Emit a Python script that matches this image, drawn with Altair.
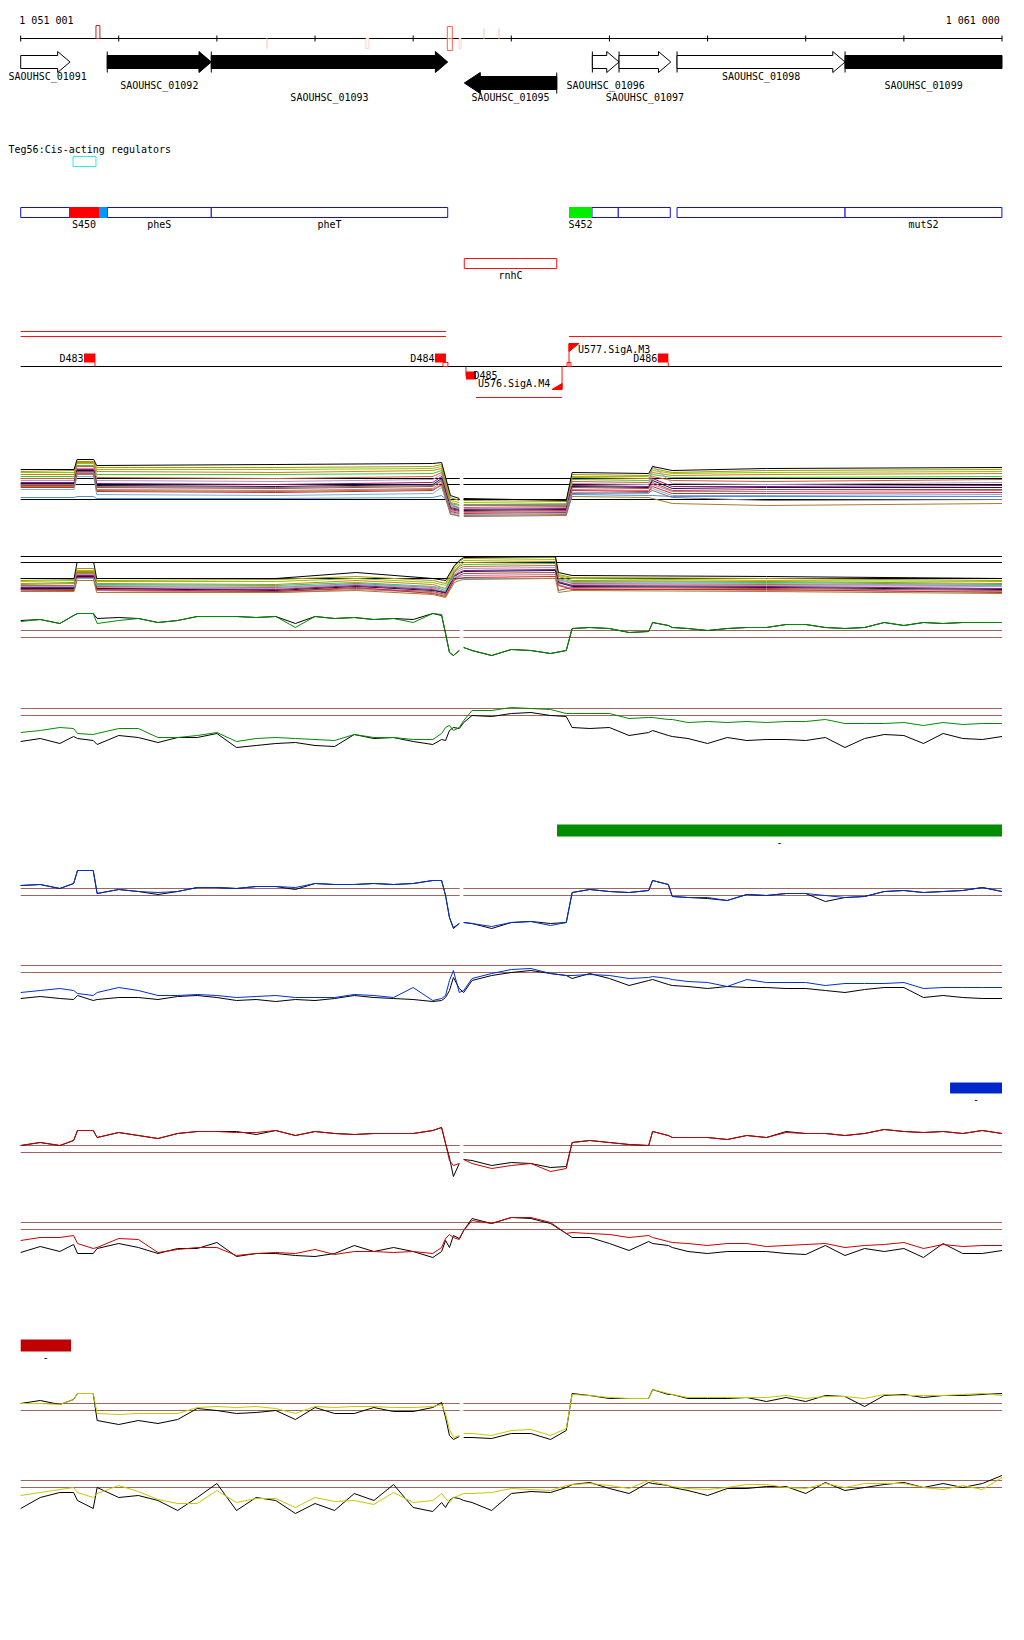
import altair as alt
import pandas as pd

# ------------------------------------------------------------------ window
START, END = 1051001, 1061000
X_DOMAIN = [1050871.6, 1061061.1]
W, H = 1000, 1620
MONO = "DejaVu Sans Mono"

RULER_TICKS = [1051001, 1052000, 1053000, 1054000, 1055000, 1056000,
               1057000, 1058000, 1059000, 1060000, 1061000]
RULER_TEXT = ["1 051 001", "1 061 000"]

# small feature glyphs on the ruler
RMARK_FROM = [1051768, 1055348, 1055348, 1053509, 1054519, 1055468, 1055722, 1055875]
RMARK_TO = [1051808, 1055399, 1055399, 1053509, 1054549, 1055488, 1055722, 1055875]
RMARK_UP = [True, True, False, False, False, False, True, True]
RMARK_COLOR = ["#c81e1e", "#ff6347", "#ff6347", "#ffd5c4", "#ffd5c4",
               "#ffd5c4", "#ffd5c4", "#ffd5c4"]

# ------------------------------------------------------------------ genes
GENE_NAME = ["SAOUHSC_01091", "SAOUHSC_01092", "SAOUHSC_01093", "SAOUHSC_01095",
             "SAOUHSC_01096", "SAOUHSC_01097", "SAOUHSC_01098", "SAOUHSC_01099"]
GENE_FROM = [1051001, 1051883, 1052943, 1055521, 1056826, 1057098, 1057689, 1059401]
GENE_TO = [1051503, 1052943, 1055352, 1056463, 1057098, 1057625, 1059401, 1061000]
GENE_STRAND = [1, 1, 1, -1, 1, 1, 1, 1]
GENE_SOLID = [False, True, True, True, False, False, False, True]
GENE_RUNS_OUT = [False, False, False, False, False, False, False, True]
GENE_LANE = [0, 0, 0, 1, 0, 0, 0, 0]
GENE_LABEL_ROW = [0, 1, 2, 2, 1, 2, 0, 1]

# ------------------------------------------------------------------ regulators
REG_TITLE = "Teg56:Cis-acting regulators"
REG_BOX = [1051534, 1051768]

CDS_FROM = [1051001, 1051883, 1052943, 1056822, 1057090, 1057689, 1059401]
CDS_TO = [1051883, 1052943, 1055352, 1057090, 1057620, 1059401, 1060999]
CDS_LABEL = ["", "pheS", "pheT", "", "", "", "mutS2"]

SRNA_FROM = [1051493, 1051799, 1056588]
SRNA_TO = [1051799, 1051880, 1056822]
SRNA_COLOR = ["#ff0000", "#0096ff", "#00ee00"]
SRNA_LABEL = ["S450", "", "S452"]

RNHC = [1055521, 1056463]

# terminator / promoter track
TERM_FROM = [1051001, 1051001, 1056588]
TERM_TO = [1055334, 1055334, 1060999]
D_NAME = ["D483", "D484", "D485", "D486"]
D_FROM = [1051646, 1055222, 1055538, 1057492]
D_TO = [1051758, 1055334, 1055640, 1057600]
D_UP = [True, True, False, True]
PROM_NAME = ["U576.SigA.M4", "U577.SigA.M3"]
PROM_AT = [1056517, 1056588]

# coloured blocks of the lower panels
BAR_FROM = [1056466, 1060471, 1051001]
BAR_TO = [1061000, 1061000, 1051514]
BAR_COLOR = ["#008c00", "#0028c8", "#c00000"]

# ------------------------------------------------------------------ signal grid
GRID = [1051001, 1051200, 1051400, 1051540, 1051580, 1051740, 1051780, 1052000,
        1052200, 1052400, 1052600, 1052800, 1053000, 1053200, 1053400, 1053600,
        1053800, 1054000, 1054200, 1054400, 1054600, 1054800, 1055000, 1055200,
        1055290, 1055330, 1055370, 1055410, 1055470, 1055515, 1055600, 1055800,
        1056000, 1056200, 1056400, 1056560, 1056620, 1056800, 1057000, 1057200,
        1057400, 1057440, 1057600, 1057640, 1057800, 1058000, 1058200, 1058400,
        1058600, 1058800, 1059000, 1059200, 1059400, 1059600, 1059800, 1060000,
        1060200, 1060400, 1060600, 1060800, 1061000]
GAP = [1055475, 1055512]

T3_BLACK = [17, 18, 14, 22, 24, 24, 19, 20, 19, 15, 17, 21, 21, 21, 20, 21, 14, 21, 19, 20,
            18, 19, 18, 24, 22, 4, -15, -18, -13, -10, -13, -18, -12, -13, -16, -13, 9, 10, 9, 5,
            6, 15, 12, 10, 9, 7, 9, 10, 10, 13, 13, 10, 9, 10, 15, 12, 15, 14, 15, 15, 15]
T3_GREEN = [16, 18, 14, 22, 24, 24, 14, 17, 19, 15, 17, 21, 21, 21, 20, 21, 10, 21, 19, 20,
            18, 19, 15, 24, 23, 4, -15, -18, -13, -10, -13, -18, -12, -13, -16, -13, 9, 10, 9, 5,
            6, 15, 12, 10, 9, 7, 9, 10, 10, 13, 13, 10, 9, 10, 15, 12, 15, 14, 15, 15, 15]
T4_GREEN = [-17, -15, -12, -13, -18, -19, -18, -13, -13, -22, -22, -20, -17, -26, -23, -22, -23, -24, -25, -19,
            -22, -22, -24, -24, -18, -12, -10, -15, -12, -5, 5, 5, 8, 7, 6, 2, 2, 2, 2, -3,
            -2, -2, -4, -4, -7, -6, -7, -6, -7, -6, -6, -4, -8, -8, -8, -7, -10, -7, -9, -8, -8]
T4_BLACK = [-26, -23, -28, -21, -23, -25, -29, -20, -22, -27, -22, -22, -18, -32, -30, -28, -27, -30, -31, -19,
            -23, -22, -26, -29, -24, -25, -15, -12, -13, -7, 0, -1, 2, 3, 0, -1, -12, -13, -12, -20,
            -17, -15, -20, -21, -23, -28, -22, -25, -24, -24, -25, -22, -32, -23, -19, -20, -28, -18, -23, -24, -21]
T5_BLUE = [10, 11, 7, 12, 25, 25, 2, 6, 4, 3, 4, 8, 8, 7, 9, 9, 8, 12, 11, 11,
           12, 11, 12, 15, 15, 0, -22, -32, -28, -27, -28, -31, -27, -26, -30, -27, 3, 6, 4, 3,
           5, 15, 11, -1, -2, -2, -5, 1, 0, 2, 2, 0, -2, -1, 4, 5, 3, 4, 5, 8, 4]
T5_BLACK = [10, 11, 7, 12, 25, 25, 2, 6, 4, 1, 4, 8, 8, 7, 9, 9, 6, 12, 11, 11,
            12, 11, 12, 15, 15, 0, -22, -33, -28, -27, -28, -33, -27, -26, -28, -27, 3, 6, 4, 3,
            5, 15, 11, -1, -2, -3, -5, 1, 0, 2, 2, -6, -2, -1, 4, 5, 3, 4, 5, 8, 4]
T6_BLUE = [-20, -18, -16, -18, -21, -23, -20, -15, -18, -23, -23, -22, -23, -25, -24, -23, -25, -25, -25, -22,
           -23, -25, -15, -28, -26, -23, -8, 2, -20, -18, -6, -1, 3, 4, -1, -3, -3, -2, -3, -6,
           -5, -4, -6, -7, -9, -10, -14, -7, -10, -10, -10, -13, -11, -11, -11, -10, -16, -15, -15, -15, -15]
T6_BLACK = [-26, -24, -26, -27, -23, -28, -27, -25, -25, -27, -24, -23, -25, -28, -27, -29, -27, -28, -26, -23,
            -25, -26, -27, -29, -28, -25, -18, -5, -16, -20, -8, -3, 0, 2, -1, -3, -6, -1, -6, -13,
            -8, -7, -12, -13, -14, -16, -14, -15, -15, -16, -16, -18, -20, -17, -15, -15, -25, -23, -25, -26, -26]
T7_RED = [7, 10, 7, 12, 22, 22, 15, 20, 17, 14, 19, 21, 21, 20, 20, 22, 17, 21, 19, 18,
          19, 19, 19, 22, 25, 9, -8, -13, -11, -7, -11, -16, -13, -11, -19, -16, 10, 12, 10, 8,
          7, 21, 17, 15, 15, 15, 13, 17, 15, 20, 19, 19, 17, 19, 23, 21, 20, 21, 19, 22, 19]
T7_BLACK = [7, 10, 7, 12, 22, 22, 15, 20, 17, 14, 19, 21, 21, 21, 18, 22, 17, 21, 19, 18,
            19, 19, 19, 22, 25, 9, -5, -24, -11, -7, -8, -13, -10, -11, -15, -14, 10, 12, 10, 8,
            7, 21, 17, 15, 15, 15, 13, 17, 15, 21, 19, 19, 17, 19, 23, 21, 20, 21, 19, 22, 19]
T8_RED = [-11, -8, -8, -6, -14, -19, -18, -9, -10, -23, -20, -18, -18, -26, -24, -23, -24, -20, -25, -22,
          -22, -23, -22, -24, -18, -9, -5, -8, -10, -1, 9, 6, 12, 12, 7, -4, -3, -4, -5, -8,
          -6, -8, -12, -13, -14, -16, -14, -14, -17, -16, -15, -14, -18, -16, -15, -13, -19, -15, -17, -16, -16]
T8_BLACK = [-23, -17, -22, -15, -24, -24, -19, -14, -18, -24, -19, -19, -13, -27, -24, -24, -26, -27, -24, -16,
            -22, -18, -22, -28, -22, -11, -18, -6, -9, -1, 11, 6, 12, 11, 6, -4, -8, -8, -14, -21,
            -12, -14, -16, -18, -22, -24, -22, -22, -22, -24, -25, -16, -26, -19, -22, -19, -28, -14, -24, -24, -21]
T9_YELLOW = [7, 7, 6, 11, 17, 17, -3, -4, -3, -3, -3, 3, 4, 3, 4, 2, -3, 4, 3, 4,
             4, 3, 3, 4, 6, -3, -19, -27, -25, -23, -23, -25, -20, -19, -25, -18, 16, 15, 13, 12,
             12, 21, 17, 16, 13, 13, 13, 13, 13, 15, 12, 14, 14, 12, 16, 15, 15, 15, 16, 17, 15]
T9_BLACK = [7, 10, 6, 11, 17, 17, -10, -14, -10, -13, -9, 2, 0, -3, -2, 0, -9, 3, -3, -3,
            3, -1, -1, 3, 8, -7, -25, -29, -26, -27, -27, -28, -23, -23, -29, -20, 17, 15, 12, 12,
            12, 21, 16, 16, 12, 12, 12, 13, 9, 13, 9, 15, 14, 4, 15, 16, 13, 15, 15, 16, 17]
T10_YELLOW = [-8, -5, -2, 0, -5, -10, -6, 2, -4, -12, -16, -16, -3, -15, -11, -11, -20, -10, -14, -13,
              -17, -5, -15, -13, -6, -11, -15, -10, -8, -6, -6, -5, -1, -2, -3, 2, 3, 4, 2, -1,
              7, 6, 2, 1, -1, -2, 0, 3, 3, 0, -1, 4, 0, 4, 4, 4, 0, -2, 2, -2, 10]
T10_BLACK = [-21, -10, -5, -5, -13, -21, 0, -10, -8, -13, -23, -10, 4, -23, -10, -13, -26, -16, -23, -6,
             -13, 3, -20, -24, -15, -20, -13, -10, -11, -13, -15, -23, -6, -4, -5, 0, 3, 5, -1, -6,
             5, 4, 2, 0, -3, -8, -1, -1, 1, 1, -6, 5, -3, 0, 3, 5, 0, 4, 0, 4, 12]

# multi-sample panels (spaghetti), read at break points
SP1_POS = [1051001, 1051545, 1051575, 1051745, 1051775, 1053600, 1055200, 1055290, 1055380,
           1055470, 1055515, 1056560, 1056620, 1057400, 1057440, 1057640, 1058600, 1061000]
SP1_COLOR = ["#a89a00", "#88cc00", "#d87a1a", "#33cc33", "#e0563a", "#a898c8", "#a0106a",
             "#101060", "#a05030", "#d4709a", "#d02828", "#70b0e8", "#4a90e0", "#a08030", "#907070"]
SP1_VALUES = [
    [28, 29, 38, 38, 32, 32, 33, 35, 2, -1, -1, -2, 25, 24, 31, 27, 29, 30],
    [27, 27, 36, 36, 30, 30, 31, 33, -1, -3, -3, -4, 23, 23, 29, 26, 27, 28],
    [25, 25, 37, 37, 28, 27, 29, 31, -3, -5, -5, -5, 22, 21, 27, 24, 25, 26],
    [23, 23, 34, 34, 25, 25, 26, 29, -4, -6, -6, -6, 20, 19, 25, 22, 22, 23],
    [21, 21, 33, 33, 22, 21, 23, 27, -6, -8, -8, -7, 18, 17, 23, 19, 18, 20],
    [19, 19, 31, 31, 19, 18, 20, 25, -7, -9, -9, -8, 16, 15, 34, 16, 15, 17],
    [17, 17, 30, 30, 16, 15, 17, 23, -8, -10, -10, -9, 14, 13, 21, 13, 13, 14],
    [16, 16, 29, 29, 14, 13, 15, 21, -9, -11, -11, -10, 13, 12, 19, 11, 12, 12],
    [14, 14, 28, 28, 12, 11, 13, 19, -10, -12, -12, -11, 12, 11, 17, 9, 10, 10],
    [13, 13, 27, 27, 10, 9, 11, 17, -11, -13, -13, -12, 10, 9, 15, 8, 8, 9],
    [12, 12, 25, 25, 8, 7, 9, 15, -12, -14, -14, -13, 9, 8, 13, 6, 6, 7],
    [10, 10, 23, 23, 5, 4, 6, 12, -13, -15, -15, -14, 7, 6, 11, 4, 4, 5],
    [2, 2, 3, 3, 1, 1, 2, 4, -4, -9, -6, -6, 5, 4, 4, 3, 3, 3],
    [13, 13, 25, 25, 9, 8, 10, 14, -15, -16, -16, -15, 3, 2, 1, -4, -6, -4],
    [15, 15, 26, 26, 13, 12, 14, 19, -14, -17, -17, -16, 6, 7, 9, 2, -1, 0],
]
SP1_BLACK = [30, 30, 40, 40, 34, 35, 36, 37, 4, 1, 1, -1, 27, 26, 33, 29, 31, 32]

SP2_POS = [1051001, 1051545, 1051575, 1051745, 1051775, 1053600, 1054420, 1055200, 1055330,
           1055420, 1055470, 1055515, 1056450, 1056480, 1056620, 1058600, 1061000]
SP2_COLOR = ["#a89a00", "#88cc00", "#d87a1a", "#33cc33", "#e0563a", "#a898c8", "#a0106a",
             "#101060", "#a05030", "#d4709a", "#d02828", "#70b0e8", "#a08030"]
SP2_VALUES = [
    [-2, -1, 10, 10, -2, -1, 2, -2, -5, 12, 17, 20, 21, 4, 1, 0, -2],
    [-3, -2, 8, 8, -3, -3, 0, -4, -7, 10, 15, 18, 19, 3, 0, -2, -3],
    [-5, -4, 7, 7, -5, -6, -2, -6, -10, 8, 13, 16, 17, 2, -2, -3, -5],
    [-6, -5, 5, 5, -6, -7, -4, -8, -12, 7, 12, 14, 15, 0, -3, -4, -6],
    [-7, -7, 6, 6, -8, -9, -5, -9, -14, 6, 10, 12, 13, -1, -5, -6, -7],
    [-8, -8, 4, 4, -9, -10, -6, -10, -13, 4, 8, 10, 11, -5, -6, -7, -8],
    [-9, -9, 3, 3, -10, -11, -7, -11, -15, 3, 6, 8, 9, -3, -7, -8, -10],
    [-10, -10, 2, 2, -10, -12, -8, -12, -14, 2, 5, 7, 8, -4, -8, -9, -11],
    [-11, -11, 1, 1, -12, -13, -10, -13, -16, 0, 3, 5, 6, -12, -9, -10, -12],
    [-12, -12, 0, 0, -12, -14, -11, -14, -17, -2, 2, 3, 4, -6, -10, -12, -13],
    [-11, -12, 1, 1, -11, -13, -9, -15, -18, -1, 0, 1, 2, -7, -11, -11, -14],
    [-8, -8, 0, 0, -7, -8, -6, -8, -10, 2, 1, 0, 0, -2, -4, -5, -7],
    [-13, -13, -2, -2, -14, -14, -12, -16, -19, -4, -2, -1, 0, -14, -12, -13, -15],
]
SP2_BLACK = [0, 0, 16, 16, 0, 0, 6, 0, -2, 13, 18, 21, 22, 6, 3, 2, 0]

# ------------------------------------------------------------------ layout (page rows)
RULER_Y = 38
LANE_Y = [61.5, 82.5]
LABEL_Y = [76.5, 85, 97.5]
BODY_HALF, HEAD_HALF = 6.5, 10.5
HEAD_PX = [12.3, 16.0]            # head length (px) for forward / reverse arrows
TITLE_Y, CYAN_Y = 149, (156, 166)
CDS_Y, CDS_LABEL_Y = (207, 217), 224
RNHC_Y, RNHC_LABEL_Y = (258, 268), 275
TERM_Y = [331, 336, 336]
AXIS_Y = 366
SP1_BASE, SP1_REFS = 499, [21, 15, 0]
SP2_BASE, SP2_REFS = 578, [22, 16, 0]
BAR_Y = [(824, 836), (1082, 1093), (1339, 1351)]
BROWN = "#a0645f"
BP_PER_PX = (X_DOMAIN[1] - X_DOMAIN[0]) / W

# ------------------------------------------------------------------ build geometry
rules, rects, heads, texts_l, texts_c, texts_r = [], [], [], [], [], []


def hline(x1, x2, y, color, sw=1.0):
    rules.append(dict(x=x1, x2=x2, y=y, y2=y, color=color, sw=sw))


def vline(x, y1, y2, color, sw=1.0):
    rules.append(dict(x=x, x2=x, y=y1, y2=y2, color=color, sw=sw))


def box(x1, x2, y1, y2, fill="transparent", stroke="transparent"):
    rects.append(dict(x=x1, x2=x2, y=y1, y2=y2, fill=fill, stroke=stroke))


def hline_gapped(x1, x2, y, color, gap):
    if gap:
        hline(x1, GAP[0], y, color)
        hline(GAP[1], x2, y, color)
    else:
        hline(x1, x2, y, color)


def head_path(length_px, direction):
    hx = length_px / 2 / HEAD_HALF * direction
    b = BODY_HALF / HEAD_HALF
    return (f"M{-hx:.3f},{-b:.3f}L{-hx:.3f},-1L{hx:.3f},0L{-hx:.3f},1L{-hx:.3f},{b:.3f}")


# ruler
hline(START, END, RULER_Y, "black")
for t in RULER_TICKS:
    vline(t, RULER_Y - 3, RULER_Y + 3, "black")
texts_l.append(dict(x=START - 14, y=20.5, t=RULER_TEXT[0]))
texts_r.append(dict(x=END - 22, y=20.5, t=RULER_TEXT[1]))
for a, b, up, c in zip(RMARK_FROM, RMARK_TO, RMARK_UP, RMARK_COLOR):
    hgt = 12 if c != "#ffd5c4" else 10
    if up:
        box(a, b, RULER_Y - hgt - (1 if c == "#c81e1e" else 0), RULER_Y, stroke=c)
    else:
        box(a, b, RULER_Y, RULER_Y + hgt, stroke=c)

# genes
for i, name in enumerate(GENE_NAME):
    a, b, s = GENE_FROM[i], GENE_TO[i], GENE_STRAND[i]
    cy = LANE_Y[GENE_LANE[i]]
    fill = "black" if GENE_SOLID[i] else "white"
    if GENE_RUNS_OUT[i]:
        box(a, b, cy - BODY_HALF, cy + BODY_HALF, fill=fill, stroke="black")
    elif s > 0:
        hl = HEAD_PX[0] * BP_PER_PX
        box(a, b - hl + 3 * BP_PER_PX, cy - BODY_HALF, cy + BODY_HALF, fill=fill, stroke="black")
        heads.append(dict(x=b - hl / 2, y=cy, fill=fill, shape="fwd"))
    else:
        hl = HEAD_PX[1] * BP_PER_PX
        box(a + hl - 3 * BP_PER_PX, b, cy - BODY_HALF, cy + BODY_HALF, fill=fill, stroke="black")
        heads.append(dict(x=a + hl / 2, y=cy, fill=fill, shape="rev"))
    if a > START:
        vline(b if s < 0 else a, cy - HEAD_HALF, cy + HEAD_HALF, "black")
    centre = max((a + b) / 2, START + 275)
    texts_c.append(dict(x=centre, y=LABEL_Y[GENE_LABEL_ROW[i]], t=name))

# regulators panel
texts_l.append(dict(x=START - 124, y=TITLE_Y, t=REG_TITLE))
box(REG_BOX[0], REG_BOX[1], CYAN_Y[0], CYAN_Y[1], stroke="#2ee8f0")
for a, b, lab in zip(CDS_FROM, CDS_TO, CDS_LABEL):
    box(a, b, CDS_Y[0], CDS_Y[1], fill="white", stroke="#1010e0")
    if lab:
        texts_c.append(dict(x=(a + b) / 2, y=CDS_LABEL_Y, t=lab))
for a, b, c, lab in zip(SRNA_FROM, SRNA_TO, SRNA_COLOR, SRNA_LABEL):
    box(a, b, CDS_Y[0] - 0.5, CDS_Y[1] + 0.5, fill=c)
    if lab:
        texts_c.append(dict(x=(a + b) / 2, y=CDS_LABEL_Y, t=lab))
box(RNHC[0], RNHC[1], RNHC_Y[0], RNHC_Y[1], fill="white", stroke="#ff1010")
texts_c.append(dict(x=(RNHC[0] + RNHC[1]) / 2, y=RNHC_LABEL_Y, t="rnhC"))

# terminators / promoters
for a, b, y in zip(TERM_FROM, TERM_TO, TERM_Y):
    hline(a, b, y, "#ff1010")
hline(START, END, AXIS_Y, "black")
for name, a, b, up in zip(D_NAME, D_FROM, D_TO, D_UP):
    if up:
        box(a, b, 353, 362, fill="#ff0000")
        texts_r.append(dict(x=a - 5, y=358, t=name))
    else:
        box(a, b, 371, 379, fill="#ff0000")
        vline(a, AXIS_Y, 376, "#ff1010")
        texts_l.append(dict(x=b - 25, y=375, t=name))
vline(D_TO[0], 353, AXIS_Y, "#ff1010")
vline(D_TO[3], 362, AXIS_Y, "#ff1010")
box(D_TO[1] - 30, D_TO[1] + 20, 362, AXIS_Y, stroke="#ff1010")
# U576 (reverse strand promoter)
p = PROM_AT[0]
vline(p, AXIS_Y, 389, "#ff1010")
heads.append(dict(x=p - 5 * BP_PER_PX, y=386, fill="#ff0000", shape="flag_rev"))
hline(D_TO[2], p, 397, "#ff1010")
texts_l.append(dict(x=D_TO[2] + 20, y=383, t=PROM_NAME[0]))
# U577 (forward strand promoter)
p = PROM_AT[1]
vline(p, 343, AXIS_Y, "#ff1010")
heads.append(dict(x=p + 5 * BP_PER_PX, y=347, fill="#ff0000", shape="flag_fwd"))
box(p - 20, p + 20, 362, AXIS_Y, stroke="#ff1010")
texts_l.append(dict(x=p + 92, y=349, t=PROM_NAME[1]))

# coloured bars
for (a, b, c), (y1, y2) in zip(zip(BAR_FROM, BAR_TO, BAR_COLOR), BAR_Y):
    box(a, b, y1, y2, fill=c)
    texts_c.append(dict(x=(a + b) / 2, y=y2 + 6, t="-"))

# spaghetti panels
for y in SP1_REFS:
    hline_gapped(START, END, SP1_BASE - y, "black", True)
for y in SP2_REFS:
    hline(START, END, SP2_BASE - y, "black")


def add_series(key, pos, vals, base, color, gap, layer):
    for p_, v in zip(pos, vals):
        seg = "a" if (not gap or p_ < GAP[0]) else "b"
        layer.append(dict(pos=p_, y=base - v, key=f"{key}-{seg}", color=color))


spag = []
for j, (c, vals) in enumerate(zip(SP1_COLOR, SP1_VALUES)):
    add_series(f"s1-{j:02d}", SP1_POS, vals, SP1_BASE, c, True, spag)
add_series("s1-black", SP1_POS, SP1_BLACK, SP1_BASE, "black", True, spag)
for j, (c, vals) in enumerate(zip(SP2_COLOR, SP2_VALUES)):
    add_series(f"s2-{j:02d}", SP2_POS, vals, SP2_BASE, c, False, spag)
add_series("s2-black", SP2_POS, SP2_BLACK, SP2_BASE, "black", False, spag)

# paired panels: (base row, gap?, colour, coloured series, black series)
PANELS = [
    (637, True, "#008c00", T3_GREEN, T3_BLACK),
    (715, False, "#008c00", T4_GREEN, T4_BLACK),
    (895, True, "#0030d0", T5_BLUE, T5_BLACK),
    (972, False, "#0030d0", T6_BLUE, T6_BLACK),
    (1152, True, "#cc0000", T7_RED, T7_BLACK),
    (1229, False, "#cc0000", T8_RED, T8_BLACK),
    (1410, True, "#c8c800", T9_YELLOW, T9_BLACK),
    (1487, False, "#c8c800", T10_YELLOW, T10_BLACK),
]
blacks, colours = [], []
for k, (base, gap, col, cv, bv) in enumerate(PANELS):
    hline_gapped(START, END, base - 7, BROWN, gap)
    hline_gapped(START, END, base, BROWN, gap)
    add_series(f"p{k}-k", GRID, bv, base, "black", gap, blacks)
    add_series(f"p{k}-c", GRID, cv, base, col, gap, colours)

# ------------------------------------------------------------------ chart
xs = alt.Scale(domain=X_DOMAIN, nice=False, zero=False)
ys = alt.Scale(domain=[7.5, 7.5 + H], reverse=True, nice=False, zero=False)


def X(f):
    return alt.X(f"{f}:Q", scale=xs, axis=None)


def Y(f):
    return alt.Y(f"{f}:Q", scale=ys, axis=None)


rule_layer = alt.Chart(pd.DataFrame(rules)).mark_rule().encode(
    x=X("x"), x2=alt.X2("x2:Q"), y=Y("y"), y2=alt.Y2("y2:Q"),
    color=alt.Color("color:N", scale=None), strokeWidth=alt.StrokeWidth("sw:Q", scale=None))

rect_layer = alt.Chart(pd.DataFrame(rects)).mark_rect(strokeWidth=1).encode(
    x=X("x"), x2=alt.X2("x2:Q"), y=Y("y"), y2=alt.Y2("y2:Q"),
    fill=alt.Fill("fill:N", scale=None), stroke=alt.Stroke("stroke:N", scale=None))

SHAPES = {
    "fwd": (head_path(HEAD_PX[0], 1), (2 * HEAD_HALF) ** 2, "black"),
    "rev": (head_path(HEAD_PX[1], -1), (2 * HEAD_HALF) ** 2, "black"),
    "flag_fwd": ("M-1,-0.8L1,-0.8L-1,0.8Z", 100, "#ff0000"),
    "flag_rev": ("M1,-0.6L1,0.6L-1,0.6Z", 100, "#ff0000"),
}
head_df = pd.DataFrame(heads)
head_layers = []
for key, (path, size, stroke) in SHAPES.items():
    sub = head_df[head_df["shape"] == key]
    if len(sub):
        head_layers.append(
            alt.Chart(sub).mark_point(shape=path, size=size, filled=True, opacity=1,
                                      stroke=stroke, strokeWidth=1, strokeOpacity=1).encode(
                x=X("x"), y=Y("y"), fill=alt.Fill("fill:N", scale=None)))


def text_layer(rows, align):
    return alt.Chart(pd.DataFrame(rows)).mark_text(
        font=MONO, fontSize=10, align=align, baseline="middle", color="black").encode(
        x=X("x"), y=Y("y"), text="t:N")


def line_layer(rows, sw=1.0):
    return alt.Chart(pd.DataFrame(rows)).mark_line(strokeWidth=sw).encode(
        x=X("pos"), y=Y("y"), detail="key:N", order=alt.Order("pos:Q"),
        color=alt.Color("color:N", scale=None))


chart = alt.layer(
    rule_layer,
    rect_layer,
    *head_layers,
    text_layer(texts_l, "left"),
    text_layer(texts_c, "center"),
    text_layer(texts_r, "right"),
    line_layer(spag),
    line_layer(blacks, 1.0),
    line_layer(colours, 1.0),
).properties(
    width=W, height=H, padding=0, autosize=alt.AutoSizeParams(type="none")
).configure_view(stroke=None)

chart.save("out.html", embed_options={"renderer": "svg", "actions": False})
